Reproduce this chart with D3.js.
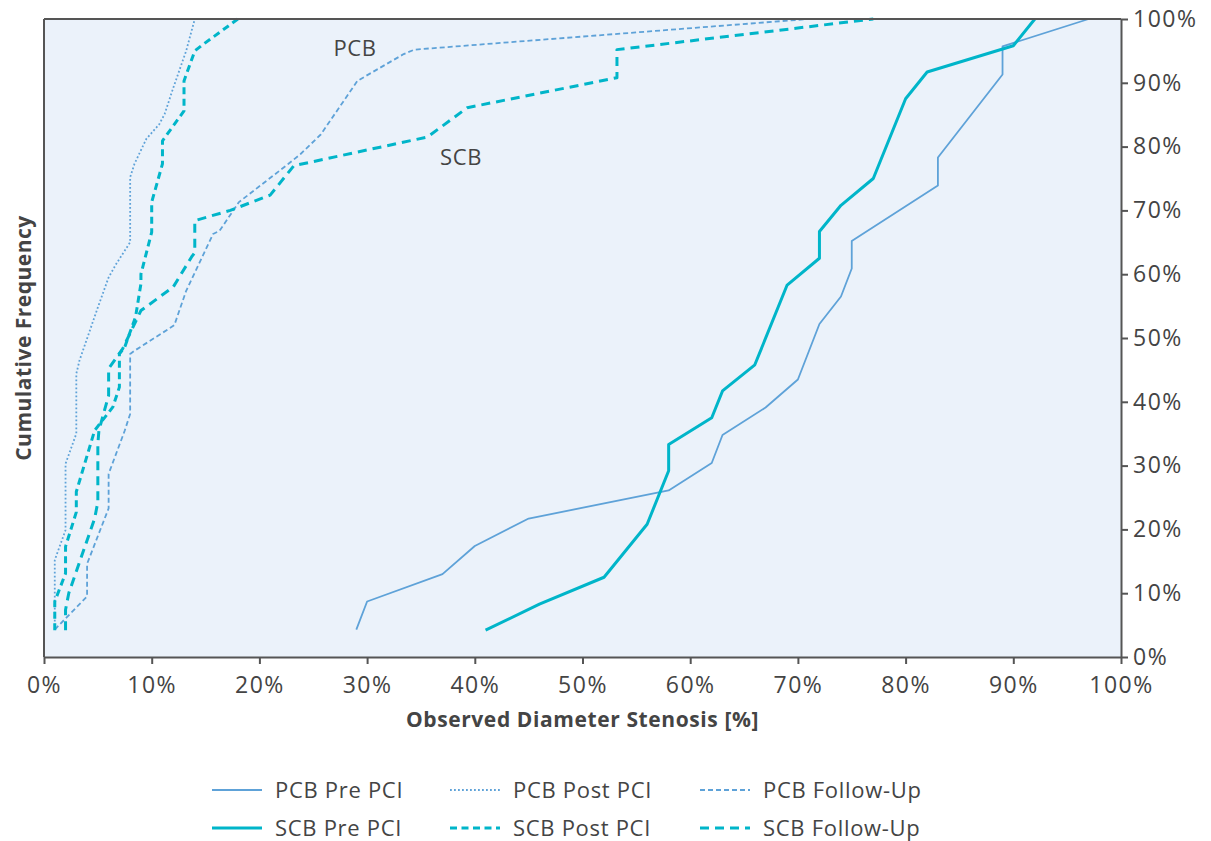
<!DOCTYPE html>
<html>
<head>
<meta charset="utf-8">
<script src="https://cdn.jsdelivr.net/npm/d3@7"></script>
<style>
  html, body { margin: 0; padding: 0; background: #ffffff; }
  svg { display: block; font-family: "Open Sans", "Noto Sans", sans-serif; }
</style>
</head>
<body>
<svg id="chart" width="1211" height="841"></svg>
<script>
// Cumulative frequency curves of observed diameter stenosis (%)
// PCB = paclitaxel-coated balloon, SCB = sirolimus-coated balloon

const pcbPreX   = [29, 30, 37, 40, 45, 58, 62, 63, 67, 70, 72, 74, 75, 75, 83, 83, 89, 89, 97];
const pcbPreY   = [4.3, 8.7, 13.0, 17.4, 21.7, 26.1, 30.4, 34.8, 39.1, 43.5, 52.2, 56.5, 60.9, 65.2, 73.9, 78.3, 91.3, 95.7, 100];

const pcbPostX  = [1, 1, 2, 2, 3, 3, 3.3, 5, 6, 6.7, 8, 8, 8.4, 9.5, 10.7, 11.2, 12, 13.2, 14];
const pcbPostY  = [4.3, 15.2, 19.9, 30.3, 35.0, 44.4, 46.5, 54.8, 59.5, 61.6, 65.0, 75.2, 77.3, 81.2, 83.5, 85.1, 89.2, 95.0, 100];

const pcbFuX    = [1, 4, 4, 6, 6, 7.5, 8, 8, 8.4, 12.1, 13.2, 14.1, 15.7, 16.3, 18.1, 22.7, 23.8, 25.7, 29.1, 33.4, 34.4, 71];
const pcbFuY    = [4.3, 9.5, 14.6, 23.3, 28.7, 35.5, 38.1, 47.5, 48.0, 52.0, 57.4, 60.6, 66.3, 66.8, 71.3, 77.3, 78.8, 81.9, 90.3, 94.5, 95.2, 100];

const scbPreX   = [41, 46, 52, 56, 58, 58, 62, 63, 66, 69, 72, 72, 74, 77, 80, 82, 90, 92];
const scbPreY   = [4.2, 8.3, 12.5, 20.8, 29.2, 33.3, 37.5, 41.7, 45.8, 58.3, 62.5, 66.7, 70.8, 75.0, 87.5, 91.7, 95.8, 100];

const scbPostX  = [1, 1, 2, 2, 3, 3, 4.7, 6.4, 7, 7, 7.5, 8.5, 9, 9, 10, 10, 10.2, 11, 11, 13, 13, 14, 14.6, 18];
const scbPostY  = [4.2, 8.7, 13.1, 17.3, 22.7, 25.9, 35.5, 39.2, 42.3, 47.5, 48.6, 53.3, 58.5, 60.0, 66.6, 71.3, 72.5, 77.3, 80.9, 85.6, 90.3, 95.0, 95.8, 100];

const scbFuX    = [2, 2, 2.3, 3.9, 4.7, 5, 5, 5.1, 6, 6, 7.3, 9, 12, 13.7, 14, 14, 17.3, 21, 23.2, 35.6, 39.3, 53.2, 53.2, 77];
const scbFuY    = [4.2, 7.4, 10.0, 17.8, 21.7, 24.3, 33.4, 35.5, 41.0, 45.2, 48.3, 54.3, 58.0, 62.7, 63.4, 68.4, 70.0, 72.4, 77.0, 81.5, 86.1, 90.8, 95.2, 100];

const xTicks = [0, 10, 20, 30, 40, 50, 60, 70, 80, 90, 100];
const yTicks = [0, 10, 20, 30, 40, 50, 60, 70, 80, 90, 100];

const PCB_BLUE = "#5ea2d8";
const SCB_TEAL = "#00b5c9";
const TEXT = "#444444";
const AXIS = "#555555";

const series = [
  { name: "PCB Pre PCI",   xs: pcbPreX,  ys: pcbPreY,  color: PCB_BLUE, width: 1.8, dash: null },
  { name: "PCB Post PCI",  xs: pcbPostX, ys: pcbPostY, color: PCB_BLUE, width: 1.8, dash: "1.8,2.2" },
  { name: "PCB Follow-Up", xs: pcbFuX,   ys: pcbFuY,   color: PCB_BLUE, width: 1.8, dash: "5,3" },
  { name: "SCB Pre PCI",   xs: scbPreX,  ys: scbPreY,  color: SCB_TEAL, width: 3,   dash: null },
  { name: "SCB Post PCI",  xs: scbPostX, ys: scbPostY, color: SCB_TEAL, width: 3,   dash: "7,4.5" },
  { name: "SCB Follow-Up", xs: scbFuX,   ys: scbFuY,   color: SCB_TEAL, width: 3,   dash: "9,6" }
];

const svg = d3.select("#chart");
const plotLeft = 44, plotRight = 1121, plotTop = 19, plotBottom = 657;

const x = d3.scaleLinear().domain([0, 100]).range([plotLeft, plotRight]);
const y = d3.scaleLinear().domain([0, 100]).range([plotBottom, plotTop]);

// plot background
svg.append("rect")
  .attr("x", plotLeft).attr("y", plotTop)
  .attr("width", plotRight - plotLeft).attr("height", plotBottom - plotTop)
  .attr("fill", "#ebf2fa");

// curves
const line = d3.line().x(d => x(d[0])).y(d => y(d[1]));
series.forEach(s => {
  const pts = s.xs.map((v, i) => [v, s.ys[i]]);
  svg.append("path")
    .attr("d", line(pts))
    .attr("fill", "none")
    .attr("stroke", s.color)
    .attr("stroke-width", s.width)
    .attr("stroke-linejoin", "round")
    .attr("stroke-dasharray", s.dash);
});

// frame: top and left edges
svg.append("line").attr("x1", plotLeft).attr("x2", plotRight).attr("y1", plotTop).attr("y2", plotTop)
  .attr("stroke", AXIS).attr("stroke-width", 2);
svg.append("line").attr("x1", plotLeft).attr("x2", plotLeft).attr("y1", plotTop).attr("y2", plotBottom)
  .attr("stroke", AXIS).attr("stroke-width", 2);

// bottom axis
const xAxis = svg.append("g")
  .attr("transform", `translate(0,${plotBottom})`)
  .call(d3.axisBottom(x).tickValues(xTicks).tickFormat(d => d + "%")
    .tickSize(7).tickSizeOuter(0).tickPadding(13));
// right axis
const yAxis = svg.append("g")
  .attr("transform", `translate(${plotRight},0)`)
  .call(d3.axisRight(y).tickValues(yTicks).tickFormat(d => d + "%")
    .tickSize(7).tickSizeOuter(0).tickPadding(5));

[xAxis, yAxis].forEach(g => {
  g.select(".domain").attr("stroke", AXIS).attr("stroke-width", 2);
  g.selectAll(".tick line").attr("stroke", AXIS).attr("stroke-width", 2);
  g.selectAll(".tick text")
    .attr("fill", TEXT)
    .style("font-size", "23px")
    .style("letter-spacing", "1.5px")
    .style("font-family", "'Open Sans', 'Noto Sans', sans-serif");
});

// axis titles
svg.append("text")
  .attr("x", (plotLeft + plotRight) / 2).attr("y", 727)
  .attr("text-anchor", "middle")
  .attr("fill", TEXT)
  .style("font-size", "21px").style("font-weight", "bold")
  .style("letter-spacing", "0.6px")
  .text("Observed Diameter Stenosis [%]");

svg.append("text")
  .attr("transform", `translate(31,338) rotate(-90)`)
  .attr("text-anchor", "middle")
  .attr("fill", TEXT)
  .style("font-size", "21px").style("font-weight", "bold")
  .style("letter-spacing", "0.5px")
  .text("Cumulative Frequency");

// in-plot group labels
svg.append("text").attr("x", 355).attr("y", 56).attr("text-anchor", "middle")
  .attr("fill", TEXT).style("font-size", "22px").style("letter-spacing", "0.6px").text("PCB");
svg.append("text").attr("x", 461).attr("y", 165).attr("text-anchor", "middle")
  .attr("fill", TEXT).style("font-size", "22px").style("letter-spacing", "0.6px").text("SCB");

// legend: 3 columns x 2 rows
const legendCols = [212, 450, 700];
const legendRows = [790, 828];
series.forEach((s, i) => {
  const col = i % 3, row = Math.floor(i / 3);
  const lx = legendCols[col], ly = legendRows[row];
  const g = svg.append("g").attr("transform", `translate(${lx},${ly})`);
  g.append("line")
    .attr("x1", 0).attr("x2", 50).attr("y1", 0).attr("y2", 0)
    .attr("stroke", s.color)
    .attr("stroke-width", s.width)
    .attr("stroke-dasharray", s.dash);
  g.append("text")
    .attr("x", 63).attr("y", 0).attr("dy", "0.35em")
    .attr("fill", TEXT)
    .style("font-size", "22px")
    .style("letter-spacing", "0.7px")
    .text(s.name);
});
</script>
</body>
</html>
